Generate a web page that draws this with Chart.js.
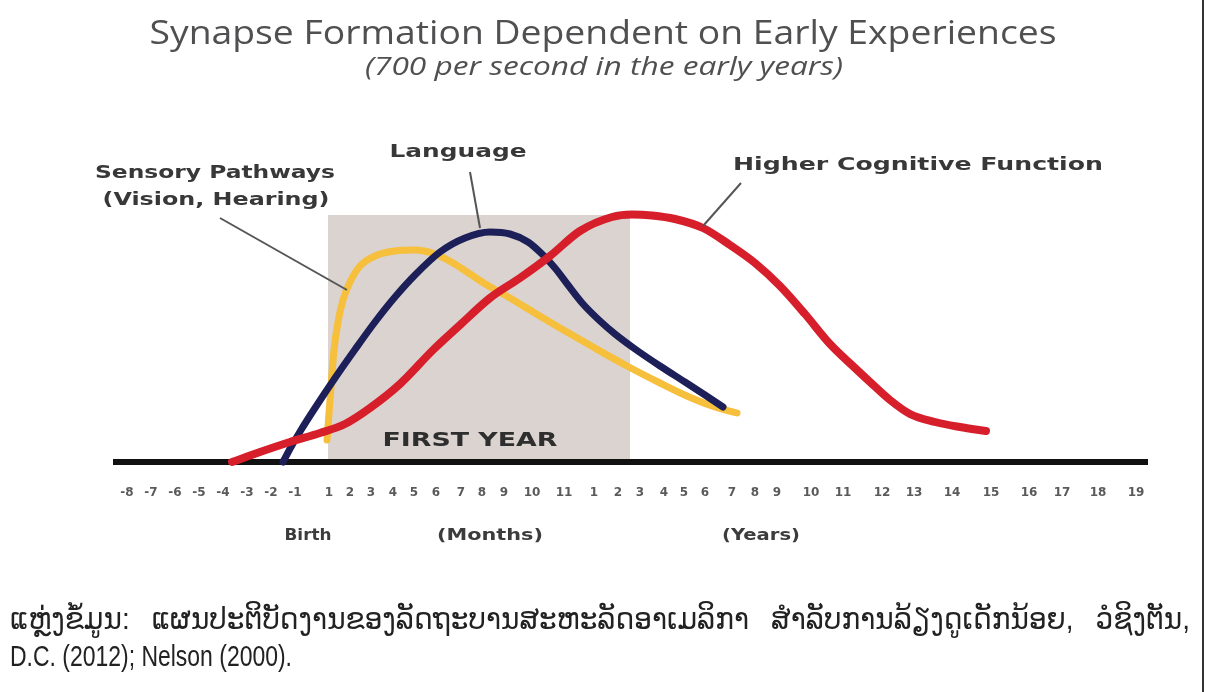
<!DOCTYPE html>
<html>
<head>
<meta charset="utf-8">
<title>Synapse Formation Dependent on Early Experiences</title>
<script src="https://cdn.jsdelivr.net/npm/chart.js@4.4.1/dist/chart.umd.min.js"></script>
<style>
    html, body { margin: 0; padding: 0; background: #fff; }
    #wrap { width: 1206px; height: 692px; }
</style>
</head>
<body>
<div id="wrap"><canvas id="chart" width="1206" height="692"></canvas></div>
<script>
// ============================================
// Data (x in timeline units, y in relative synapse formation)
// ============================================

const tickLabels = ['-8', '-7', '-6', '-5', '-4', '-3', '-2', '-1',
    '1', '2', '3', '4', '5', '6', '7', '8', '9', '10', '11',
    '1', '2', '3', '4', '5', '6', '7', '8', '9', '10', '11', '12', '13', '14', '15', '16', '17', '18', '19'];
const tickPos = [12.7, 15.1, 17.5, 19.9, 22.3, 24.7, 27.1, 29.5,
    32.9, 35.0, 37.1, 39.3, 41.4, 43.6, 46.1, 48.2, 50.4, 53.2, 56.4,
    59.4, 61.8, 64.0, 66.4, 68.4, 70.5, 73.2, 75.5, 77.7, 81.1, 84.3, 88.2, 91.4, 95.2, 99.1, 102.9, 106.2, 109.8, 113.6];

const sensoryX = [32.7, 33.0, 33.4, 33.8, 34.3, 35.0, 36.0, 37.5, 39.5, 41.5, 43.5, 45.3, 47.0, 48.7, 51.0, 53.3, 56.0, 59.3, 62.7, 66.0, 68.7, 71.2, 73.7];
const sensoryY = [8.8, 24.8, 44.8, 56, 64.8, 72, 78.4, 82.4, 84.4, 84.8, 83.2, 79.6, 75.2, 70.8, 65.6, 60, 53.6, 46, 38.4, 31.6, 26.4, 22.4, 19.6];

const languageX = [28.3, 29.1, 30.1, 31.5, 33.5, 35.5, 37.5, 39.5, 41.5, 44.0, 46.5, 49.0, 51.0, 52.8, 54.2, 55.5, 56.8, 58.3, 60.0, 61.5, 63.5, 66.0, 68.5, 70.5, 72.3];
const languageY = [0, 6, 12.8, 21.6, 33.6, 45, 56, 66, 74.8, 84, 89.6, 92, 91.2, 88, 83.2, 77.6, 70.8, 63.2, 56.4, 51.2, 45.2, 38.4, 32, 26.8, 22];

const cognitiveX = [23.2, 26.0, 29.0, 32.0, 34.5, 37.0, 40.0, 43.3, 46.0, 49.0, 52.0, 55.0, 58.0, 61.2, 63.2, 65.2, 67.5, 70.3, 73.0, 75.5, 78.0, 80.5, 83.0, 85.5, 87.0, 89.0, 91.0, 93.5, 96.0, 98.6];
const cognitiveY = [0, 4, 8, 11.6, 15.2, 21.6, 31.2, 44.8, 54.8, 65.6, 73.6, 82.4, 92.4, 98, 99, 98.6, 97.2, 93.6, 86.8, 79.6, 70.4, 59.2, 47.2, 37.6, 32, 24.8, 19.2, 16, 14, 12.4];

const firstYearX = [32.8, 32.8, 63.0, 63.0];
const firstYearY = [0, 98.8, 98.8, 0];

const baselineX = [11.3, 114.8];
const baselineY = [0, 0];

const titleText = 'Synapse Formation Dependent on Early Experiences';
const subtitleText = '(700 per second in the early years)';
const captionLine1 = 'ແຫຼ່ງຂໍ້ມູນ: ແຜນປະຕິບັດງານຂອງລັດຖະບານສະຫະລັດອາເມລິກາ ສໍາລັບການລ້ຽງດູເດັກນ້ອຍ, ວໍຊິງຕັນ,';
const captionLine2 = 'D.C. (2012); Nelson (2000).';

// ============================================
// Helpers
// ============================================

const toPoints = (xs, ys) => xs.map((x, i) => ({ x: x, y: ys[i] }));

// draw text squeezed / stretched to a given width, centred on cx
function fitText(ctx, text, cx, cy, width, font, color, align) {
    ctx.save();
    ctx.font = font;
    ctx.fillStyle = color;
    ctx.textAlign = align || 'center';
    ctx.textBaseline = 'middle';
    const w = ctx.measureText(text).width;
    ctx.translate(cx, cy);
    ctx.scale(width / w, 1);
    ctx.fillText(text, 0, 0);
    ctx.restore();
}

function justifyText(ctx, text, x0, x1, y) {
    const words = text.split(' ');
    const widths = words.map(w => ctx.measureText(w).width);
    const total = widths.reduce((a, b) => a + b, 0);
    let gap = (x1 - x0 - total) / (words.length - 1);
    let sx = 1;
    if (gap < 22) {
        gap = 22;
        sx = (x1 - x0 - gap * (words.length - 1)) / total;
    }
    let x = x0;
    words.forEach((w, i) => {
        ctx.save();
        ctx.translate(x, y);
        ctx.scale(sx, 1);
        ctx.fillText(w, 0, 0);
        ctx.restore();
        x += widths[i] * sx + gap;
    });
}

function leader(ctx, x0, y0, x1, y1) {
    ctx.beginPath();
    ctx.moveTo(x0, y0);
    ctx.lineTo(x1, y1);
    ctx.stroke();
}

// ============================================
// Overlay plugin: titles, labels, tick labels, caption
// ============================================

const overlay = {
    id: 'overlay',
    afterDatasetsDraw(chart) {
        const ctx = chart.ctx;
        const X = v => chart.scales.x.getPixelForValue(v);
        const Y = v => chart.scales.y.getPixelForValue(v);

        // titles
        fitText(ctx, titleText, 603, 35, 907, '32px "Open Sans"', '#505052');
        fitText(ctx, subtitleText, 604, 68, 478, 'italic 26px "Open Sans"', '#505052');

        // curve labels
        const lab = 'bold 18px "DejaVu Sans"';
        fitText(ctx, 'Language', X(45.8), Y(124), 137, lab, '#383838');
        fitText(ctx, 'Sensory Pathways', X(21.5), Y(115.6), 240, lab, '#383838');
        fitText(ctx, '(Vision, Hearing)', X(21.6), Y(104.8), 227, lab, '#383838');
        fitText(ctx, 'Higher Cognitive Function', X(91.8), Y(118.8), 370, lab, '#383838');
        fitText(ctx, 'FIRST YEAR', X(47.0), Y(8.4), 175, 'bold 19px "DejaVu Sans"', '#2e2e2e');

        // leader lines
        ctx.save();
        ctx.strokeStyle = '#555';
        ctx.lineWidth = 2;
        leader(ctx, X(22.0), Y(97.6), X(34.7), Y(68.8));
        leader(ctx, X(47.0), Y(116), X(48.0), Y(93.6));
        leader(ctx, X(74.1), Y(111.6), X(70.3), Y(94.4));
        ctx.restore();

        // tick labels under the baseline
        ctx.save();
        ctx.font = 'bold 12px "DejaVu Sans"';
        ctx.fillStyle = '#5a5a5a';
        ctx.textAlign = 'center';
        ctx.textBaseline = 'middle';
        tickLabels.forEach((t, i) => ctx.fillText(t, X(tickPos[i]), Y(0) + 31));
        ctx.restore();

        const unit = 'bold 15px "DejaVu Sans"';
        fitText(ctx, 'Birth', X(30.8), Y(0) + 74, 47, unit, '#3c3c3c');
        fitText(ctx, '(Months)', X(49.0), Y(0) + 74, 106, unit, '#3c3c3c');
        fitText(ctx, '(Years)', X(76.1), Y(0) + 74, 78, unit, '#3c3c3c');

        // source caption
        ctx.save();
        ctx.font = '30px "Liberation Sans", "DejaVu Sans"';
        ctx.fillStyle = '#222';
        ctx.textBaseline = 'middle';
        justifyText(ctx, captionLine1, 10, 1190, 621);
        ctx.restore();
        fitText(ctx, captionLine2, 10, 658, 282, '29px "Liberation Sans"', '#222', 'left');

        // frame edge on the right
        ctx.save();
        ctx.strokeStyle = '#333';
        ctx.lineWidth = 2;
        leader(ctx, 1203, 0, 1203, 692);
        ctx.restore();
    }
};

// ============================================
// Chart
// ============================================

const lineStyle = {
    pointRadius: 0,
    borderCapStyle: 'round',
    cubicInterpolationMode: 'monotone',
    fill: false
};

new Chart(document.getElementById('chart'), {
    type: 'line',
    data: {
        datasets: [
            Object.assign({ label: 'Higher Cognitive Function', data: toPoints(cognitiveX, cognitiveY),
                borderColor: '#d71f2b', borderWidth: 8, order: 1 }, lineStyle),
            Object.assign({ label: 'Language', data: toPoints(languageX, languageY),
                borderColor: '#1c1f58', borderWidth: 7, order: 2 }, lineStyle),
            Object.assign({ label: 'Sensory Pathways', data: toPoints(sensoryX, sensoryY),
                borderColor: '#f6bf3c', borderWidth: 7, order: 3 }, lineStyle),
            { label: 'Baseline', data: toPoints(baselineX, baselineY), borderColor: '#111',
                borderWidth: 6, pointRadius: 0, borderCapStyle: 'butt', fill: false, order: 5 },
            { label: 'First year', data: toPoints(firstYearX, firstYearY), borderWidth: 0,
                borderColor: 'rgba(0,0,0,0)', backgroundColor: '#dad3cf', pointRadius: 0,
                tension: 0, fill: 'origin', order: 10 }
        ]
    },
    options: {
        responsive: false,
        animation: false,
        devicePixelRatio: 1,
        layout: { padding: 0 },
        plugins: {
            legend: { display: false },
            tooltip: { enabled: false },
            title: { display: false }
        },
        scales: {
            x: { type: 'linear', min: 0, max: 120.6, display: false },
            y: { type: 'linear', min: -92, max: 184.8, display: false }
        }
    },
    plugins: [overlay]
});
</script>
</body>
</html>
